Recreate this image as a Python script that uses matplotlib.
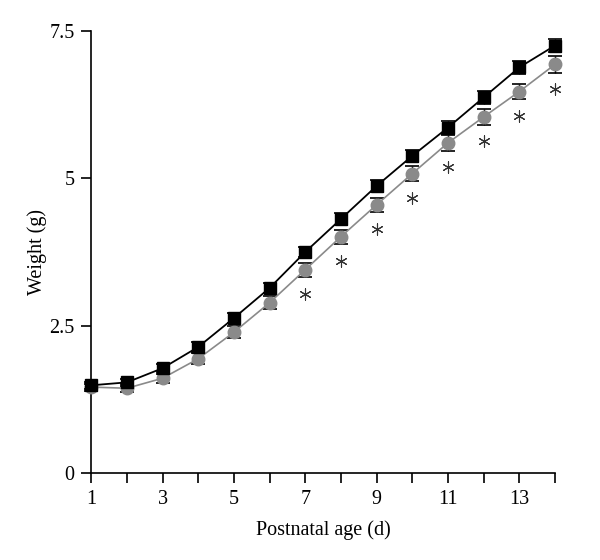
import matplotlib.pyplot as plt

# postnatal age (days)
days = list(range(1, 15))

# black squares (control) and gray circles
weight_black = [1.49, 1.54, 1.78, 2.14, 2.63, 3.14, 3.75, 4.31, 4.87, 5.38, 5.86, 6.37, 6.88, 7.25]
err_black = [0.06, 0.06, 0.07, 0.08, 0.08, 0.09, 0.09, 0.10, 0.10, 0.10, 0.11, 0.11, 0.11, 0.11]
weight_gray = [1.46, 1.44, 1.61, 1.94, 2.39, 2.89, 3.45, 4.01, 4.55, 5.08, 5.60, 6.04, 6.47, 6.93]
err_gray = [0.06, 0.07, 0.08, 0.09, 0.10, 0.11, 0.12, 0.12, 0.12, 0.12, 0.13, 0.13, 0.13, 0.14]

# days marked significant
star_days = [7, 8, 9, 10, 11, 12, 13, 14]

plt.rcParams['font.family'] = ['Liberation Serif', 'DejaVu Serif']

fig = plt.figure(figsize=(6, 5.6), dpi=100)
ax = fig.add_axes([0.152, 0.155, 0.773, 0.79])

ax.errorbar(days, weight_gray, yerr=err_gray, color='#8a8a8a', ecolor='black',
            elinewidth=1.0, capsize=5, capthick=1.2, marker='o', markersize=9,
            markeredgecolor='#8a8a8a', markerfacecolor='#8a8a8a', linewidth=1.2, zorder=3)
ax.errorbar(days, weight_black, yerr=err_black, color='black', ecolor='black',
            elinewidth=1.0, capsize=5, capthick=1.2, marker='s', markersize=9,
            linewidth=1.3, zorder=4)

star_y = [weight_gray[days.index(d)] - 0.41 for d in star_days]
ax.scatter(star_days, star_y, marker=(6, 2, 0), s=65, color='#333333',
           linewidths=0.8, zorder=5)

ax.set_xlim(1, 14)
ax.set_ylim(0, 7.5)
ax.set_xticks(days)
ax.set_xticklabels([str(d) if d % 2 == 1 else '' for d in days])
ax.set_yticks([0, 2.5, 5, 7.5])
ax.set_yticklabels(['0', '2.5', '5', '7.5'])
ax.spines['top'].set_visible(False)
ax.spines['right'].set_visible(False)
ax.tick_params(direction='out', length=7, width=1.2, labelsize=14.5, pad=5)
for s in ['left', 'bottom']:
    ax.spines[s].set_linewidth(1.2)

ax.set_xlabel('Postnatal age (d)', fontsize=14.5, labelpad=8)
ax.set_ylabel('Weight (g)', fontsize=14.5, labelpad=2)

for line in ax.lines + ax.collections:
    line.set_clip_on(False)

fig.savefig('out.png', dpi=100)
